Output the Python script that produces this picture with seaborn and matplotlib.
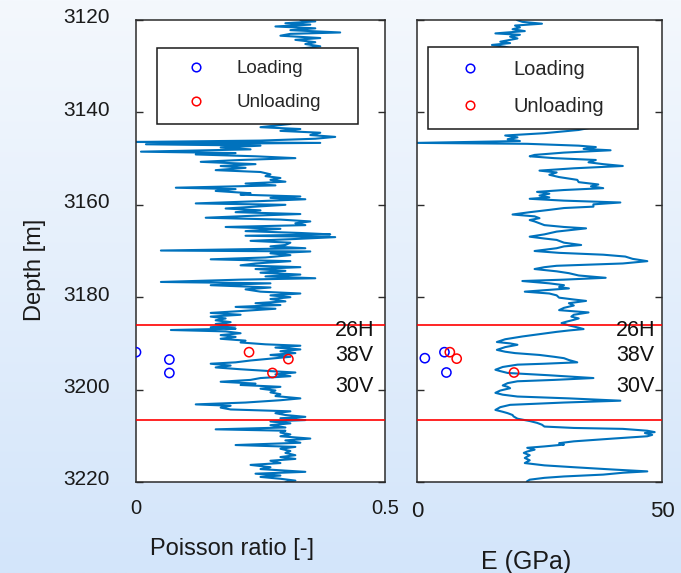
import numpy as np
import matplotlib
matplotlib.use("Agg")
import matplotlib.pyplot as plt
from matplotlib.lines import Line2D
from matplotlib.colors import LinearSegmentedColormap
import matplotlib.transforms as mtransforms
import seaborn as sns

# ---------------- data ----------------
nu_depth = [
    3120.0, 3120.3, 3120.7, 3121.0, 3121.4, 3121.8, 3122.2, 3122.7, 3123.0, 3123.4,
    3123.9, 3124.3, 3124.8, 3125.2, 3125.7, 3126.2, 3127.5, 3129.0, 3130.5, 3132.0,
    3133.5, 3135.0, 3136.5, 3138.0, 3139.5, 3141.0, 3142.5, 3143.2, 3143.6, 3144.0,
    3144.4, 3144.9, 3145.3, 3145.7, 3146.1, 3146.4, 3146.6, 3146.9, 3147.2, 3147.6,
    3148.0, 3148.5, 3148.8, 3149.1, 3149.5, 3149.9, 3150.3, 3150.7, 3151.2, 3151.6,
    3152.0, 3152.5, 3152.9, 3153.4, 3153.8, 3154.2, 3154.6, 3155.0, 3155.4, 3155.8,
    3156.3, 3156.6, 3157.0, 3157.5, 3157.8, 3158.2, 3158.5, 3158.8, 3159.2, 3159.7,
    3160.0, 3160.4, 3160.8, 3161.2, 3161.6, 3162.0, 3162.3, 3162.8, 3163.2, 3163.6,
    3164.0, 3164.4, 3164.8, 3165.2, 3165.7, 3166.1, 3166.4, 3166.7, 3167.0, 3167.4,
    3167.8, 3168.2, 3168.7, 3169.0, 3169.4, 3169.9, 3170.1, 3170.5, 3170.9, 3171.4,
    3171.8, 3172.2, 3172.7, 3173.1, 3173.5, 3173.9, 3174.3, 3174.7, 3175.1, 3175.5,
    3175.9, 3176.2, 3176.7, 3177.0, 3177.4, 3177.9, 3178.3, 3178.8, 3179.2, 3179.6,
    3180.0, 3180.4, 3180.9, 3181.3, 3181.7, 3182.1, 3182.5, 3183.0, 3183.4, 3183.8,
    3184.2, 3184.6, 3185.0, 3185.4, 3185.8, 3186.1, 3186.5, 3186.8, 3187.1, 3187.4,
    3187.8, 3188.2, 3188.6, 3189.0, 3189.4, 3189.8, 3190.2, 3190.5, 3190.9, 3191.3,
    3191.7, 3192.1, 3192.5, 3192.9, 3193.3, 3193.7, 3194.1, 3194.4, 3194.8, 3195.2,
    3195.6, 3196.0, 3196.3, 3196.7, 3197.1, 3197.5, 3197.9, 3198.3, 3198.7, 3199.0,
    3199.4, 3199.8, 3200.2, 3200.6, 3201.0, 3201.4, 3201.9, 3202.3, 3202.8, 3203.2,
    3203.5, 3203.9, 3204.3, 3204.7, 3205.1, 3205.5, 3205.9, 3206.2, 3206.6, 3206.9,
    3207.3, 3207.7, 3208.2, 3208.6, 3208.9, 3209.3, 3209.7, 3210.1, 3210.6, 3211.0,
    3211.5, 3212.0, 3212.4, 3212.8, 3213.3, 3213.7, 3214.2, 3214.6, 3215.0, 3215.4,
    3215.9, 3216.3, 3216.8, 3217.2, 3217.8, 3218.2, 3218.6, 3218.9, 3219.3, 3219.7,
    3220.0,
]
nu_log = [
    0.33, 0.36, 0.30, 0.35, 0.28, 0.36, 0.31, 0.41, 0.31, 0.29,
    0.37, 0.32, 0.36, 0.34, 0.37, 0.33, 0.31, 0.35, 0.30, 0.34,
    0.31, 0.36, 0.32, 0.34, 0.30, 0.33, 0.31, 0.25, 0.33, 0.29,
    0.37, 0.35, 0.40, 0.36, 0.25, 0.00, 0.37, 0.02, 0.25, 0.17,
    0.23, 0.01, 0.20, 0.12, 0.24, 0.32, 0.21, 0.13, 0.24, 0.17,
    0.22, 0.16, 0.25, 0.27, 0.26, 0.29, 0.27, 0.30, 0.22, 0.28,
    0.08, 0.20, 0.16, 0.23, 0.21, 0.33, 0.27, 0.34, 0.25, 0.12,
    0.30, 0.24, 0.18, 0.25, 0.20, 0.33, 0.25, 0.14, 0.29, 0.35,
    0.32, 0.34, 0.18, 0.29, 0.22, 0.33, 0.39, 0.22, 0.40, 0.32,
    0.23, 0.31, 0.30, 0.27, 0.34, 0.05, 0.35, 0.27, 0.31, 0.26,
    0.15, 0.31, 0.24, 0.21, 0.33, 0.24, 0.30, 0.25, 0.33, 0.26,
    0.36, 0.21, 0.05, 0.27, 0.15, 0.27, 0.22, 0.25, 0.33, 0.27,
    0.31, 0.27, 0.30, 0.24, 0.29, 0.20, 0.28, 0.21, 0.15, 0.21,
    0.15, 0.18, 0.16, 0.19, 0.16, 0.20, 0.15, 0.20, 0.07, 0.18,
    0.21, 0.17, 0.20, 0.17, 0.22, 0.21, 0.26, 0.33, 0.28, 0.33,
    0.29, 0.32, 0.27, 0.31, 0.27, 0.23, 0.20, 0.15, 0.19, 0.16,
    0.21, 0.27, 0.32, 0.28, 0.31, 0.25, 0.23, 0.17, 0.24, 0.21,
    0.29, 0.25, 0.28, 0.27, 0.29, 0.28, 0.33, 0.29, 0.22, 0.12,
    0.19, 0.17, 0.19, 0.31, 0.28, 0.30, 0.34, 0.29, 0.34, 0.27,
    0.31, 0.27, 0.30, 0.16, 0.30, 0.29, 0.31, 0.29, 0.35, 0.30,
    0.33, 0.20, 0.32, 0.29, 0.31, 0.30, 0.32, 0.29, 0.32, 0.27,
    0.29, 0.23, 0.27, 0.25, 0.34, 0.24, 0.29, 0.25, 0.29, 0.32,
    0.30,
]

e_depth = [
    3120.0, 3120.4, 3120.8, 3121.2, 3121.6, 3122.0, 3122.4, 3122.9, 3123.2, 3123.6,
    3124.0, 3124.4, 3124.7, 3125.0, 3125.4, 3125.8, 3127.0, 3128.5, 3130.0, 3131.5,
    3133.0, 3134.5, 3136.0, 3137.5, 3139.0, 3140.5, 3141.8, 3142.6, 3143.2, 3143.8,
    3144.5, 3145.0, 3145.4, 3145.8, 3146.2, 3146.6, 3146.8, 3147.2, 3147.5, 3147.9,
    3148.2, 3148.7, 3149.2, 3149.5, 3149.9, 3150.3, 3150.8, 3151.2, 3151.6, 3152.1,
    3152.6, 3153.0, 3153.5, 3154.0, 3154.6, 3155.1, 3155.6, 3156.0, 3156.4, 3156.8,
    3157.2, 3157.6, 3158.0, 3158.4, 3158.7, 3159.1, 3159.5, 3159.9, 3160.4, 3160.7,
    3161.1, 3161.6, 3162.1, 3162.5, 3162.9, 3163.3, 3163.6, 3164.0, 3164.4, 3164.8,
    3165.1, 3165.5, 3165.8, 3166.4, 3166.9, 3167.3, 3167.6, 3168.2, 3168.7, 3169.0,
    3169.4, 3170.0, 3170.4, 3170.8, 3171.2, 3171.7, 3172.2, 3172.7, 3173.2, 3173.5,
    3173.9, 3174.4, 3174.8, 3175.3, 3175.8, 3176.2, 3176.5, 3177.0, 3177.4, 3177.8,
    3178.1, 3178.5, 3178.8, 3179.2, 3179.6, 3180.1, 3180.5, 3180.8, 3181.3, 3181.8,
    3182.3, 3182.8, 3183.3, 3183.8, 3184.2, 3184.6, 3184.9, 3185.3, 3185.6, 3186.1,
    3186.6, 3186.9, 3187.2, 3187.5, 3188.0, 3188.5, 3189.1, 3189.7, 3190.0, 3190.3,
    3190.8, 3191.4, 3191.8, 3192.1, 3192.5, 3192.9, 3193.2, 3193.6, 3194.1, 3194.4,
    3194.6, 3195.1, 3195.7, 3196.0, 3196.4, 3196.9, 3197.5, 3197.9, 3198.2, 3198.6,
    3199.1, 3199.4, 3199.7, 3200.2, 3200.7, 3201.1, 3201.5, 3201.9, 3202.4, 3202.8,
    3203.3, 3203.8, 3204.4, 3204.8, 3205.1, 3205.5, 3205.8, 3206.3, 3206.8, 3207.2,
    3207.6, 3208.0, 3208.3, 3208.5, 3208.9, 3209.2, 3209.4, 3209.8, 3210.1, 3210.6,
    3211.2, 3211.6, 3211.9, 3212.3, 3212.6, 3213.0, 3213.4, 3213.7, 3214.2, 3214.8,
    3215.3, 3215.9, 3216.4, 3216.8, 3217.3, 3217.7, 3218.0, 3218.4, 3218.8, 3219.1,
    3219.5, 3219.9, 3220.0,
]
e_log = [
    20.4, 21.5, 25.5, 20.0, 21.0, 19.5, 22.0, 16.0, 21.0, 19.0,
    20.5, 18.5, 17.0, 19.0, 15.3, 18.0, 22.0, 19.0, 24.0, 21.0,
    26.0, 22.0, 28.0, 24.0, 30.0, 27.0, 33.0, 45.0, 36.0, 33.0,
    26.0, 18.0, 20.5, 18.5, 21.0, 0.0, 22.5, 33.0, 36.5, 34.0,
    39.5, 30.0, 24.0, 23.0, 28.0, 36.5, 35.0, 38.0, 42.0, 32.0,
    25.0, 28.5, 27.0, 29.0, 32.7, 33.0, 37.0, 35.5, 38.0, 30.0,
    24.5, 27.0, 25.0, 27.0, 23.0, 30.0, 41.5, 36.0, 36.0, 30.0,
    27.0, 23.0, 19.5, 24.0, 25.0, 23.0, 24.0, 25.0, 26.0, 30.0,
    34.5, 31.0, 28.5, 26.0, 23.0, 26.0, 28.5, 30.0, 33.5, 30.0,
    28.5, 24.0, 29.0, 38.0, 42.5, 44.0, 47.0, 42.0, 28.5, 26.0,
    24.0, 28.5, 31.0, 33.0, 38.5, 30.0, 21.5, 27.0, 30.0, 29.0,
    31.0, 26.0, 22.0, 27.0, 28.5, 29.0, 32.0, 34.5, 31.0, 32.0,
    30.0, 29.0, 35.0, 32.0, 31.5, 33.0, 32.0, 30.5, 29.5, 31.0,
    33.0, 34.0, 31.0, 28.5, 25.0, 21.5, 18.0, 16.3, 19.0, 20.5,
    18.0, 16.3, 18.0, 20.0, 25.0, 28.0, 30.0, 31.0, 32.7, 26.0,
    20.5, 17.5, 16.0, 17.0, 18.5, 27.0, 36.0, 28.0, 20.5, 18.5,
    17.5, 18.5, 19.0, 17.0, 16.0, 17.5, 20.5, 31.0, 41.5, 30.0,
    19.0, 17.0, 16.0, 17.5, 18.5, 19.5, 19.7, 20.5, 23.0, 24.5,
    25.5, 26.0, 32.0, 42.0, 47.0, 48.5, 46.5, 48.0, 47.0, 40.0,
    32.0, 29.0, 30.0, 26.0, 22.5, 24.0, 22.5, 21.8, 23.0, 22.0,
    23.0, 22.0, 26.0, 32.0, 40.0, 47.0, 42.0, 38.0, 30.0, 26.0,
    23.0, 22.4, 22.5,
]

# laboratory test results
nu_load_x = [0.0, 0.067, 0.067]
nu_load_y = [3191.9, 3193.5, 3196.4]
nu_unload_x = [0.227, 0.306, 0.274]
nu_unload_y = [3191.9, 3193.4, 3196.4]

e_load_x = [1.6, 5.6, 6.0]
e_load_y = [3193.2, 3191.9, 3196.3]
e_unload_x = [6.7, 8.1, 19.8]
e_unload_y = [3191.9, 3193.3, 3196.3]

zone_top, zone_base = 3186.1, 3206.5
sample_names = ["26H", "38V", "30V"]
sample_depths = [3187.3, 3192.7, 3199.4]

depth_ticks = [3120, 3140, 3160, 3180, 3200, 3220]

# ---------------- style ----------------
sns.set_theme(style="white")
plt.rcParams["font.family"] = ["Liberation Sans", "DejaVu Sans"]

LOG_COLOR = "#0072BD"
FRAME = "#2b2b2b"

fig = plt.figure(figsize=(6.81, 5.73), dpi=100)

# soft blue vertical gradient behind everything
bg = fig.add_axes([0, 0, 1, 1], zorder=-10)
cmap = LinearSegmentedColormap.from_list("bgfade", ["#f4f8fd", "#d3e5fa"])
bg.imshow(np.linspace(0, 1, 256).reshape(-1, 1), aspect="auto", cmap=cmap,
          extent=[0, 1, 0, 1])
bg.set_axis_off()

ax1 = fig.add_axes([136 / 681, 91 / 573, 249 / 681, 462 / 573])
ax2 = fig.add_axes([417 / 681, 91 / 573, 245 / 681, 462 / 573])


def style_axis(ax, xlim, xticks, xlabels, xfs, xpad):
    ax.set_facecolor("white")
    ax.set_ylim(3220, 3120)
    ax.set_xlim(*xlim)
    ax.set_yticks(depth_ticks)
    ax.set_xticks(xticks)
    ax.set_xticklabels(xlabels, fontsize=xfs)
    ax.tick_params(axis="y", direction="in", left=True, right=True,
                   length=5, width=1, color=FRAME, labelsize=15, pad=19,
                   labelcolor="#1a1a1a")
    ax.tick_params(axis="x", length=0, pad=xpad, labelcolor="#1a1a1a")
    for sp in ax.spines.values():
        sp.set_color(FRAME)
        sp.set_linewidth(1.1)
        sp.set_visible(True)


def draw_panel(ax, depth, log, lx, ly, ux, uy, text_x, leg_box, leg_fs,
               leg_spacing, leg_pad):
    sns.lineplot(x=log, y=depth, sort=False, estimator=None, ax=ax,
                 color=LOG_COLOR, linewidth=1.5, zorder=2)
    for d in (zone_top, zone_base):
        ax.axhline(d, color="red", linewidth=1.2, zorder=3)
    sns.scatterplot(x=lx, y=ly, ax=ax, marker="o", s=44, facecolors="none",
                    edgecolor="blue", linewidth=1.1, zorder=4)
    sns.scatterplot(x=ux, y=uy, ax=ax, marker="o", s=44, facecolors="none",
                    edgecolor="red", linewidth=1.1, zorder=4)
    for name, d in zip(sample_names, sample_depths):
        ax.text(text_x, d, name, fontsize=15.5, color="#111111",
                ha="left", va="center", zorder=5)
    handles = [
        Line2D([], [], ls="none", marker="o", ms=6.2, mfc="none",
               mec="blue", mew=1.1),
        Line2D([], [], ls="none", marker="o", ms=6.2, mfc="none",
               mec="red", mew=1.1),
    ]
    leg = ax.legend(handles, ["Loading", "Unloading"], loc="upper left",
                    bbox_to_anchor=leg_box, mode="expand", fontsize=leg_fs,
                    frameon=True, fancybox=False, edgecolor="#1a1a1a",
                    framealpha=1, borderpad=leg_pad, labelspacing=leg_spacing,
                    handlelength=2.9, handletextpad=0.7, borderaxespad=0)
    leg.get_frame().set_linewidth(1.1)
    leg.set_zorder(6)


style_axis(ax1, (0, 0.5), [0, 0.5], ["0", "0.5"], 14.5, 12)
style_axis(ax2, (0, 50), [0, 50], ["0", "50"], 16, 13.5)
ax2.tick_params(axis="y", labelleft=False)

draw_panel(ax1, nu_depth, nu_log, nu_load_x, nu_load_y,
           nu_unload_x, nu_unload_y, 0.40,
           (21 / 249, 0, 201 / 249, 434 / 462), 13.5, 0.9, 0.65)
draw_panel(ax2, e_depth, e_log, e_load_x, e_load_y,
           e_unload_x, e_unload_y, 40.6,
           (11 / 245, 0, 210 / 245, 435 / 462), 14.5, 0.9, 0.65)

ax1.set_ylabel("Depth [m]", fontsize=17, color="#1a1a1a", labelpad=12)
ax1.set_xlabel("Poisson ratio [-]", fontsize=17, color="#1a1a1a",
               labelpad=15)
ax2.set_xlabel("E (GPa)", fontsize=18, color="#1a1a1a", labelpad=20)
ax2.set_ylabel("")
# axis titles sit off-centre along their axes
ax1.xaxis.label.set_x(0.386)
ax2.xaxis.label.set_x(0.445)
ax1.yaxis.label.set_y(0.459)

# lift the depth labels slightly above their ticks
shift = mtransforms.ScaledTranslation(0, 4 / 100, fig.dpi_scale_trans)
for lab in ax1.get_yticklabels():
    lab.set_transform(lab.get_transform() + shift)

fig.savefig("out.png", dpi=100)
